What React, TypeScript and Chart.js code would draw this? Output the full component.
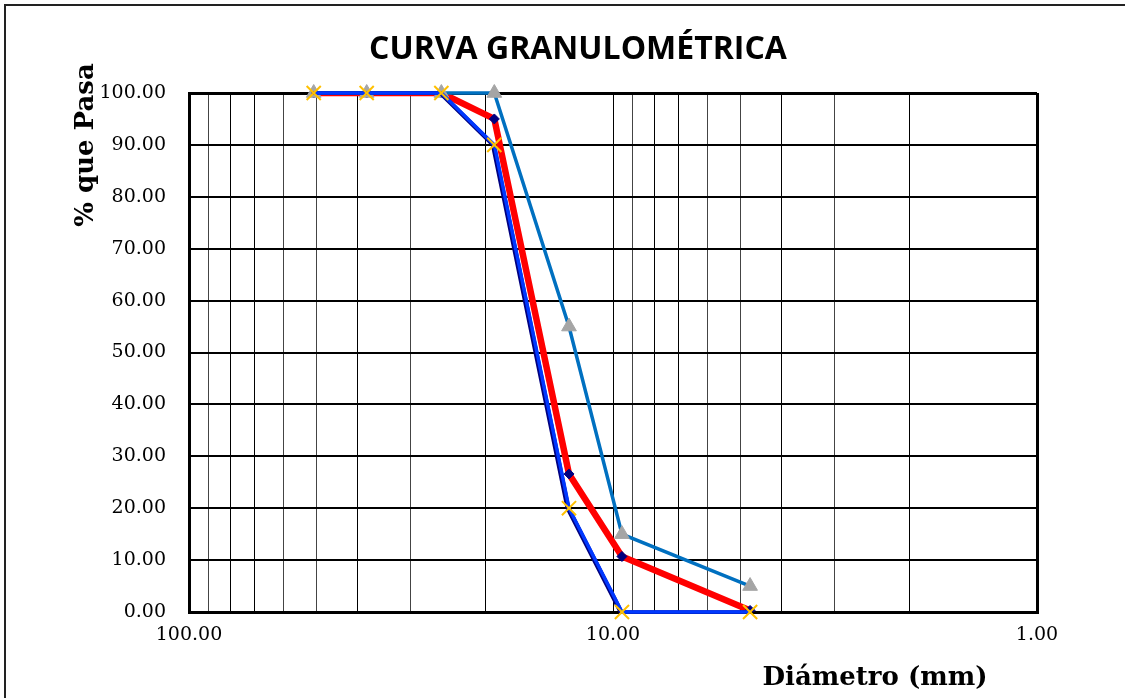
import React, { useEffect, useRef } from "react";
import { Chart, registerables } from "chart.js";

Chart.register(...registerables);

// ---- Data ----
const sieveSizes = [50.8, 38.1, 25.4, 19.05, 12.7, 9.525, 4.75];
const upperLimit = [100, 100, 100, 100, 55, 15, 5];
const lowerLimit = [100, 100, 100, 90, 20, 0, 0];
const samplePassing = [100, 100, 100, 95.0, 26.6, 10.7, 0.3];

const xGridValues = [1, 2, 3, 4, 5, 6, 7, 8, 9, 10, 20, 30, 40, 50, 60, 70, 80, 90, 100];
const xLabelValues = [1, 10, 100];
const yTickValues = [0, 10, 20, 30, 40, 50, 60, 70, 80, 90, 100];

const chartTitle = "CURVA GRANULOMÉTRICA";
const yAxisTitle = "% que Pasa";
const xAxisTitle = "Diámetro (mm)";

const toPoints = (vals: number[]) => sieveSizes.map((x, i) => ({ x, y: vals[i] }));

const shadowPlugin = {
  id: "lineShadow",
  beforeDatasetDraw(chart: any, args: any) {
    const ds = chart.data.datasets[args.index];
    if (ds.shadowOffsetX) {
      const ctx = chart.ctx;
      ctx.save();
      ctx.shadowColor = ds.borderColor;
      ctx.shadowOffsetX = ds.shadowOffsetX;
      ctx.shadowOffsetY = 0;
      ctx.shadowBlur = 0;
    }
  },
  afterDatasetDraw(chart: any, args: any) {
    const ds = chart.data.datasets[args.index];
    if (ds.shadowOffsetX) chart.ctx.restore();
  },
};

const titlesPlugin = {
  id: "customTitles",
  afterDraw(chart: any, _args: any, opts: any) {
    const ctx = chart.ctx;
    ctx.save();
    ctx.fillStyle = "#000";
    ctx.textAlign = "center";
    ctx.textBaseline = "middle";
    ctx.font = opts.titleFont;
    ctx.fillText(chartTitle, opts.titleX, opts.titleY);
    ctx.font = opts.axisFont;
    ctx.fillText(xAxisTitle, opts.xTitleX, opts.xTitleY);
    ctx.translate(opts.yTitleX, opts.yTitleY);
    ctx.rotate(-Math.PI / 2);
    ctx.fillText(yAxisTitle, 0, 0);
    ctx.restore();
  },
};

const tickFont = { family: "'DejaVu Serif'", size: 19 };

export default function App() {
  const canvasRef = useRef<HTMLCanvasElement | null>(null);

  useEffect(() => {
    const canvas = canvasRef.current;
    if (!canvas) return;
    const chart = new Chart(canvas, {
      type: "line",
      data: {
        datasets: [
          {
            label: "Límite inferior",
            data: toPoints(lowerLimit),
            borderColor: "#0038FF",
            borderWidth: 3.5,
            pointStyle: "crossRot",
            pointRadius: 10,
            pointBorderColor: "#FFC000",
            pointBackgroundColor: "#FFC000",
            pointBorderWidth: 2,
            tension: 0,
            clip: false,
          },
          {
            label: "sombra",
            data: toPoints(lowerLimit),
            borderColor: "#000080",
            borderWidth: 3,
            pointRadius: 0,
            tension: 0,
            shadowOffsetX: -2,
            clip: false,
          } as any,
          {
            label: "Límite superior",
            data: toPoints(upperLimit),
            borderColor: "#0070C0",
            borderWidth: 3.5,
            pointStyle: "triangle",
            pointRadius: 8.5,
            pointBorderColor: "#A5A5A5",
            pointBackgroundColor: "#A5A5A5",
            pointBorderWidth: 1,
            tension: 0,
            clip: false,
          },
          {
            label: "Muestra",
            data: toPoints(samplePassing),
            borderColor: "#FF0000",
            borderWidth: 6.5,
            pointStyle: "rectRot",
            pointRadius: 5,
            pointBorderColor: "#000080",
            pointBackgroundColor: "#000080",
            pointBorderWidth: 1,
            tension: 0,
            clip: 0,
          },
        ],
      },
      options: {
        responsive: false,
        animation: false,
        events: [],
        layout: { padding: { left: 0, top: 93, right: 88, bottom: 0 } },
        plugins: {
          legend: { display: false },
          title: { display: false },
          tooltip: { enabled: false },
          customTitles: {
            titleFont: "bold 32px 'Open Sans'",
            titleX: 578,
            titleY: 50,
            axisFont: "bold 26px 'DejaVu Serif'",
            xTitleX: 875,
            xTitleY: 678,
            yTitleX: 86,
            yTitleY: 145,
          },
        } as any,
        scales: {
          x: {
            type: "logarithmic",
            reverse: true,
            min: 1,
            max: 100,
            afterBuildTicks: (scale: any) => {
              scale.ticks = xGridValues.map((v) => ({ value: v }));
            },
            afterFit: (scale: any) => {
              scale.height = 86;
            },
            ticks: {
              autoSkip: false,
              maxRotation: 0,
              minRotation: 0,
              padding: 12,
              color: "#000",
              font: tickFont,
              callback: (v: any) => (xLabelValues.includes(Number(v)) ? Number(v).toFixed(2) : ""),
            },
            grid: {
              color: (c: any) => (c.tick && [3, 5, 6, 9, 30, 50, 60, 90].includes(c.tick.value) ? "#444" : "#000"),
              lineWidth: (c: any) => (c.tick && c.tick.value === 1 ? 3 : 1),
              drawTicks: false,
            },
            border: { display: true, color: "#000", width: 3 },
          },
          y: {
            type: "linear",
            min: 0,
            max: 100,
            afterBuildTicks: (scale: any) => {
              scale.ticks = yTickValues.map((v) => ({ value: v }));
            },
            afterFit: (scale: any) => {
              scale.width = 189;
            },
            ticks: {
              padding: 23,
              color: "#000",
              font: tickFont,
              callback: (v: any) => Number(v).toFixed(2),
            },
            grid: {
              color: "#000",
              lineWidth: (c: any) => (c.tick && c.tick.value === 100 ? 3 : 2),
              drawTicks: false,
            },
            border: { display: true, color: "#000", width: 3 },
          },
        },
      },
      plugins: [shadowPlugin, titlesPlugin],
    });
    return () => chart.destroy();
  }, []);

  return (
    <div
      style={{
        position: "fixed",
        left: 0,
        top: 0,
        width: 1125,
        height: 698,
        overflow: "hidden",
        background: "#fff",
      }}
    >
      <div
        style={{
          position: "absolute",
          left: 4,
          top: 4,
          width: 1200,
          height: 800,
          border: "2px solid #222",
          boxSizing: "border-box",
        }}
      />
      <canvas
        ref={canvasRef}
        width={1125}
        height={698}
        style={{ position: "absolute", left: 0, top: 0, width: 1125, height: 698 }}
      />
    </div>
  );
}
